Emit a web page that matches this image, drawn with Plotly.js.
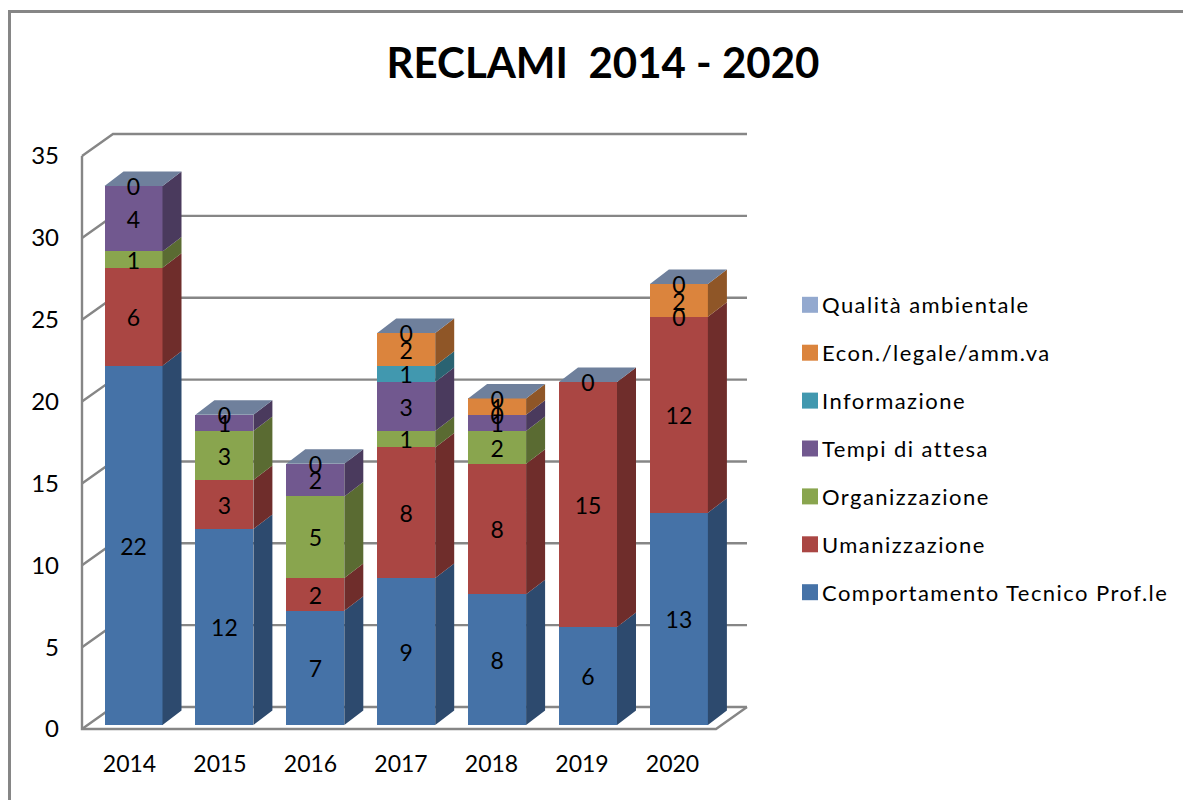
<!DOCTYPE html>
<html><head><meta charset="utf-8">
<script src="https://cdn.plot.ly/plotly-3.0.1.min.js"></script>
<style>html,body{margin:0;padding:0;background:#fff;overflow:hidden}
.legendtext{letter-spacing:1.45px}</style>
</head><body><div id="chart" style="width:1183px;height:800px"></div>
<script>
// ---- data ----
const years = [2014, 2015, 2016, 2017, 2018, 2019, 2020];
const seriesNames = ["Comportamento Tecnico Prof.le", "Umanizzazione", "Organizzazione", "Tempi di attesa", "Informazione", "Econ./legale/amm.va", "Qualità ambientale"];
const comportamento = [22, 12, 7, 9, 8, 6, 13];
const umanizzazione = [6, 3, 2, 8, 8, 15, 12];
const organizzazione = [1, 3, 5, 1, 2, null, 0];
const tempiAttesa = [4, 1, 2, 3, 1, null, null];
const informazione = [null, null, null, 1, 0, null, null];
const economico = [null, null, null, 2, 1, null, 2];
const qualita = [0, 0, 0, 0, 0, 0, 0];
const yTicks = [0, 5, 10, 15, 20, 25, 30, 35];
const allSeries = [comportamento, umanizzazione, organizzazione, tempiAttesa, informazione, economico, qualita];
const faceColors = ["#4572A7", "#AA4643", "#89A54E", "#71588F", "#4198AF", "#DB843D", "#93A9CF"];
const sideColors = ["#2D4A6E", "#6F2D2B", "#5A6B32", "#4A3A5D", "#2A6372", "#8F5627", "#5F6E88"];
const topColor = "#6F809C";
const frameColor = "#868686";

// ---- geometry (pixels of the page) ----
const W = 1183, H = 800;
const plot = {l: 60, r: 765, t: 120, b: 745};
// wall/axis scale
const axX0 = 129.5, axDX = 90.5, axY0 = 729, axDY = 16.37;
// bar scale (bars stand a little inside the floor)
const barX0 = 133.5, barDX = 90.9, barY0 = 725, barDY = 16.33;
const axisRange = {
  x: [years[0] + (plot.l - axX0) / axDX, years[0] + (plot.r - axX0) / axDX],
  y: [(axY0 - plot.b) / axDY, (axY0 - plot.t) / axDY]
};
const barRange = {
  x: [years[0] + (plot.l - barX0) / barDX, years[0] + (plot.r - barX0) / barDX],
  y: [(barY0 - plot.b) / barDY, (barY0 - plot.t) / barDY]
};
const wallDx = 31 / axDX, wallDy = 22 / axDY;
const frontX = years[0] + (82 - axX0) / axDX, rightX = years[0] + (716 - axX0) / axDX;
const barW = 58 / barDX, depthX = 19 / barDX, depthY = 14.5 / barDY;
const labelShift = 3.5 / barDY;

const traces = [];

// walls: gridlines + front axes, on the visible axes
const gx = [], gy = [];
yTicks.forEach(v => { gx.push(frontX, frontX + wallDx, rightX + wallDx, null); gy.push(v, v + wallDy, v + wallDy, null); });
gx.push(rightX + wallDx, rightX, frontX, frontX); gy.push(wallDy, 0, 0, yTicks[yTicks.length - 1]);
traces.push({type: "scatter", mode: "lines", x: gx, y: gy, xaxis: "x", yaxis: "y", showlegend: false, hoverinfo: "skip",
  line: {color: frameColor, width: 2.4}});

// stacked bars
allSeries.forEach((vals, s) => {
  traces.push({type: "bar", name: seriesNames[s], x: years, y: vals, xaxis: "x2", yaxis: "y2", width: barW,
    marker: {color: faceColors[s], line: {width: 0}}, showlegend: false, hoverinfo: "x+y+name"});
});

// running bases
const bases = allSeries.map((_, s) => years.map((_, i) => {
  let b = 0; for (let k = 0; k < s; k++) b += allSeries[k][i] || 0; return b;
}));

// side faces
allSeries.forEach((vals, s) => {
  const px = [], py = [];
  years.forEach((yr, i) => {
    const v = vals[i]; if (!v) return;
    const b = bases[s][i], xr = yr + barW / 2;
    px.push(xr, xr + depthX, xr + depthX, xr, xr, null);
    py.push(b, b + depthY, b + v + depthY, b + v, b, null);
  });
  traces.push({type: "scatter", mode: "lines", x: px, y: py, xaxis: "x2", yaxis: "y2", fill: "toself", fillcolor: sideColors[s],
    line: {width: 0, color: sideColors[s]}, showlegend: false, hoverinfo: "skip"});
});

// top faces
(function () {
  const px = [], py = [];
  years.forEach((yr, i) => {
    const t = bases[allSeries.length - 1][i] + (qualita[i] || 0), xl = yr - barW / 2, xr = yr + barW / 2;
    px.push(xl, xl + depthX, xr + depthX, xr, xl, null);
    py.push(t, t + depthY, t + depthY, t, t, null);
  });
  traces.push({type: "scatter", mode: "lines", x: px, y: py, xaxis: "x2", yaxis: "y2", fill: "toself", fillcolor: topColor,
    line: {width: 0, color: topColor}, showlegend: false, hoverinfo: "skip"});
})();

// data labels
allSeries.forEach((vals, s) => {
  const lx = [], ly = [], lt = [];
  years.forEach((yr, i) => {
    if (vals[i] === null) return;
    lx.push(yr); ly.push(bases[s][i] + vals[i] / 2 - labelShift); lt.push(String(vals[i]));
  });
  traces.push({type: "scatter", mode: "text", x: lx, y: ly, text: lt, xaxis: "x2", yaxis: "y2", textposition: "middle center",
    textfont: {family: "Lato", size: 23, color: "#000"}, showlegend: false, hoverinfo: "skip", cliponaxis: false});
});

// legend entries, top entry first
allSeries.map((_, s) => s).reverse().forEach(s => {
  traces.push({type: "scatter", mode: "markers", name: seriesNames[s], x: [null], y: [null], xaxis: "x2", yaxis: "y2",
    legendgroup: seriesNames[s], marker: {symbol: "square", size: 16, color: faceColors[s]}, hoverinfo: "skip"});
});

const toPaperX = px => (px - plot.l) / (plot.r - plot.l);
const toPaperY = py => (plot.b - py) / (plot.b - plot.t);

const layout = {
  width: W, height: H, paper_bgcolor: "#fff", plot_bgcolor: "rgba(0,0,0,0)",
  margin: {l: plot.l, r: W - plot.r, t: plot.t, b: H - plot.b, pad: 0, autoexpand: false},
  barmode: "stack", bargap: 0, hovermode: "closest",
  font: {family: "Lato", color: "#000"},
  title: {text: "RECLAMI\u00A0\u00A02014 - 2020", x: 603 / W, xanchor: "center", xref: "container", y: 1 - 63 / H, yanchor: "middle", yref: "container",
    font: {family: "Lato", size: 42, weight: 700, color: "#000"}},
  xaxis: {domain: [0, 1], range: axisRange.x, tickmode: "array", tickvals: years, ticktext: years.map(String), showgrid: false, zeroline: false,
    showline: false, ticks: "", ticklabelstandoff: 3, tickfont: {family: "Lato", size: 23, color: "#000"}, fixedrange: true},
  yaxis: {domain: [0, 1], range: axisRange.y, tickmode: "array", tickvals: yTicks, ticktext: yTicks.map(String), showgrid: false, zeroline: false,
    showline: false, ticks: "", tickfont: {family: "Lato", size: 24, color: "#000"}, fixedrange: true},
  xaxis2: {overlaying: "x", domain: [0, 1], range: barRange.x, visible: false, fixedrange: true, anchor: "y2"},
  yaxis2: {overlaying: "y", domain: [0, 1], range: barRange.y, visible: false, fixedrange: true, anchor: "x2"},
  showlegend: true,
  legend: {x: toPaperX(790), xanchor: "left", y: toPaperY(284), yanchor: "top", traceorder: "grouped", tracegroupgap: 16.3,
    itemsizing: "trace", font: {family: "Lato", size: 22, color: "#000"}, bgcolor: "rgba(0,0,0,0)", borderwidth: 0, itemclick: false, itemdoubleclick: false},
  shapes: [{type: "rect", xref: "paper", yref: "paper", x0: toPaperX(9.5), x1: toPaperX(W + 20), y0: toPaperY(11.5), y1: toPaperY(H + 20),
    line: {color: frameColor, width: 3}, fillcolor: "rgba(0,0,0,0)", layer: "below"}]
};

Plotly.newPlot("chart", traces, layout, {displayModeBar: false, responsive: false}).then(gd => {
  // the reference sets its legend text closer to the swatch than the library's fixed gap
  gd.querySelectorAll(".legend .legendtext").forEach(t => t.setAttribute("x", 32));
});
</script></body></html>
